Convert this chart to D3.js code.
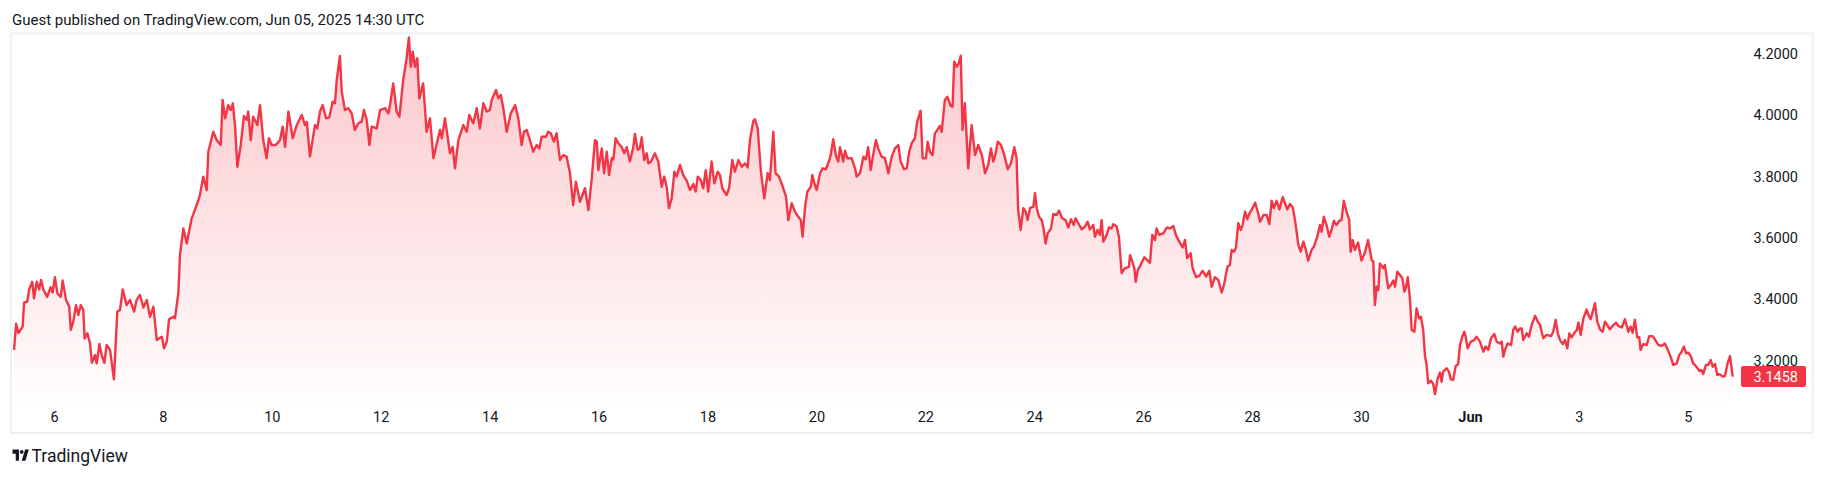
<!DOCTYPE html>
<html><head><meta charset="utf-8">
<script src="https://cdn.jsdelivr.net/npm/d3@7"></script>
<style>body{margin:0;background:#fff}svg{display:block}</style>
</head><body>
<svg id="c" width="1826" height="478"></svg>
<script>
// ---- DATA (time in hours since 2025-05-06 00:00, price) ----
const hours = [
-17.6,-16.7,-15.7,-13.8,-13.2,-11.8,-10.9,-9.6,-8.8,-7.6,
-6.6,-5.7,-4.7,-3.0,-1.5,-0.6,0.4,1.5,3.0,3.8,
5.3,6.7,7.4,8.5,9.7,10.7,11.8,12.9,13.5,14.7,
15.9,16.7,18.1,18.8,20.0,21.0,22.2,23.2,24.7,26.4,
27.9,29.1,30.3,32.0,33.5,35.3,36.4,37.9,39.4,40.9,
42.3,43.8,45.3,47.5,48.5,49.7,50.7,52.6,53.3,54.8,
55.5,57.0,58.5,60.7,63.6,64.3,65.8,67.3,68.0,70.2,
71.7,73.5,74.3,75.4,76.8,77.9,78.8,79.8,80.8,82.3,
83.7,84.9,85.6,86.7,87.8,89.6,90.8,92.2,93.7,94.7,
95.9,97.8,99.6,100.8,101.8,103.3,105.2,107.0,109.2,110.6,
111.4,112.8,115.0,116.0,117.2,118.4,119.9,121.3,122.8,123.8,
124.6,126.0,126.8,128.2,129.7,131.2,132.6,134.1,135.6,136.6,
137.8,139.0,140.0,142.2,143.7,145.9,147.3,148.1,149.5,151.0,
152.2,153.9,155.4,156.4,157.2,158.1,159.1,160.1,161.0,162.7,
164.2,165.7,167.2,170.1,170.9,172.3,174.5,175.7,176.7,178.2,
180.4,181.9,183.0,184.8,186.3,187.7,189.2,190.7,192.1,192.9,
194.8,195.8,196.9,198.0,199.5,201.3,203.2,204.6,206.1,207.1,
208.3,209.5,211.2,212.7,213.9,214.9,216.8,217.8,218.9,220.3,
221.5,223.0,224.4,225.9,227.4,228.8,230.0,231.8,234.0,235.5,
237.0,238.4,239.2,239.9,241.4,242.4,243.6,244.6,245.8,246.5,
247.5,248.7,250.2,251.3,252.4,253.8,255.3,256.0,257.2,258.2,
259.0,260.1,261.2,261.9,263.1,264.8,266.3,267.8,268.9,270.0,
271.0,272.2,273.4,274.4,275.9,277.3,278.8,280.3,281.7,282.8,
283.7,285.1,286.1,287.2,288.3,289.8,291.0,292.5,293.5,294.5,
296.4,297.5,298.9,300.1,301.6,303.1,304.5,305.7,306.7,308.2,
308.9,310.1,311.6,313.0,314.5,315.5,317.0,318.0,319.5,320.9,
322.6,323.6,325.1,326.5,328.0,329.1,329.9,331.0,332.0,333.5,
334.2,334.9,336.1,337.6,338.7,340.2,341.7,342.3,343.4,344.6,
345.6,346.4,347.8,348.6,349.6,351.5,353.0,353.7,355.2,356.7,
357.8,358.8,359.9,361.0,362.2,363.2,364.7,366.2,367.7,369.2,
370.6,372.1,373.1,374.6,375.8,376.9,378.0,379.4,380.4,381.9,
382.8,384.3,385.0,386.0,387.2,388.2,389.3,390.4,391.2,392.6,
393.7,395.2,396.0,396.7,397.8,398.7,399.6,400.4,401.4,402.9,
404.4,405.9,407.3,408.9,410.3,411.7,412.9,413.9,415.0,415.9,
417.3,418.8,420.3,421.7,423.2,424.2,424.9,426.0,427.2,428.2,
429.1,430.1,431.6,432.3,433.1,434.1,435.3,436.0,437.0,437.9,
439.4,440.4,441.9,442.9,444.3,445.8,447.0,448.2,449.4,450.2,
451.4,452.9,454.3,455.5,456.5,458.0,458.7,459.9,460.9,461.7,
462.4,463.9,464.9,466.1,466.8,468.3,469.3,470.5,471.9,473.7,
474.2,475.2,476.1,476.7,477.6,478.6,480.5,482.0,483.0,484.0,
485.2,485.9,487.0,488.9,490.4,491.8,493.3,494.4,495.9,497.4,
498.4,499.4,500.9,501.8,503.3,504.7,506.2,507.7,509.1,510.2,
511.6,513.1,514.6,515.6,517.1,518.2,519.0,520.0,520.9,521.9,
523.0,523.8,524.9,525.9,526.8,527.8,529.3,530.3,531.5,533.0,
534.4,535.6,536.6,537.6,538.8,540.0,541.5,542.5,543.5,544.7,
545.9,546.9,548.4,549.4,550.6,551.7,552.7,554.2,555.2,556.7,
557.9,558.6,559.6,560.8,562.0,563.0,564.0,565.2,566.4,567.4,
568.4,569.6,570.8,571.4,572.3,573.3,574.7,576.2,577.7,579.1,
580.7,581.4,582.1,582.9,583.6,584.3,585.8,586.5,588.0,589.2,
590.2,591.0,592.0,593.2,594.2,595.1,595.7,596.6,597.6,598.3,
599.5,600.5,601.5,602.4,603.4,604.2,604.9,605.6,606.8,607.8,
608.6,609.8,610.8,611.5,612.2,613.7,614.7,615.6,616.6,617.7,
618.8,619.6,620.6,621.5,622.1,623.0,624.4,625.9,626.9,628.4,
629.9,630.9,632.1,633.3,634.7,635.8,637.2,638.0,638.7,639.4,
640.6,642.1,643.1,643.9,645.0,646.0,646.8,647.5,649.0,650.0,
651.2,652.7,653.9,654.9,656.3,657.8,659.7,660.7,661.8,662.7,
663.7,664.9,665.9,666.9,667.8,668.8,669.9,671.1,671.8,672.8,
674.0,675.4,676.2,677.2,678.1,679.1,680.1,681.3,682.5,683.5,
684.5,685.7,687.2,688.4,689.4,690.9,692.3,693.8,694.8,695.7,
696.7,697.7,698.6,699.2,700.4,701.9,703.0,704.5,705.5,707.0,
708.5,709.9,710.9,712.4,713.6,715.1,716.2,717.3,718.3,719.2,
720.2,721.3,722.4,723.6,725.1,726.1,726.8,728.0,729.0,730.1,
731.0,732.0,733.0,733.9,735.4,736.4,737.5,738.6,739.8
];
const prices = [
3.233,3.318,3.288,3.309,3.387,3.39,3.431,3.455,3.401,3.455,
3.43,3.461,3.43,3.406,3.437,3.42,3.47,3.417,3.406,3.459,
3.396,3.374,3.298,3.325,3.379,3.347,3.379,3.363,3.27,3.287,
3.254,3.191,3.216,3.189,3.252,3.216,3.191,3.249,3.233,3.137,
3.358,3.363,3.43,3.379,3.396,3.358,3.396,3.412,3.371,3.396,
3.341,3.374,3.265,3.276,3.238,3.26,3.333,3.341,3.336,3.417,
3.542,3.629,3.58,3.662,3.72,3.738,3.798,3.754,3.879,3.944,
3.917,3.901,4.048,3.988,4.031,4.015,4.037,3.961,3.83,3.901,
3.996,3.983,4.01,3.917,3.993,3.966,4.031,3.917,3.858,3.923,
3.901,3.901,3.917,3.961,3.895,4.01,3.923,3.966,3.999,3.966,
3.977,3.863,3.966,3.955,4.01,4.031,3.988,3.991,4.042,4.037,
4.113,4.191,4.075,4.015,4.021,4.004,3.95,3.972,3.977,4.015,
3.983,3.901,3.961,3.955,4.015,4.021,4.004,4.031,4.102,4.01,
3.993,4.113,4.184,4.252,4.156,4.205,4.156,4.184,4.053,4.102,
3.944,3.988,3.858,3.95,3.923,3.988,3.874,3.895,3.825,3.917,
3.966,3.944,3.999,3.972,4.021,3.955,4.037,4.01,4.015,4.048,
4.08,4.053,4.064,4.021,3.944,4.004,4.031,3.988,3.901,3.944,
3.95,3.923,3.879,3.901,3.89,3.928,3.928,3.944,3.939,3.912,
3.939,3.852,3.868,3.863,3.809,3.705,3.781,3.716,3.76,3.689,
3.792,3.917,3.912,3.819,3.89,3.809,3.879,3.803,3.858,3.854,
3.923,3.907,3.894,3.874,3.894,3.847,3.894,3.937,3.885,3.89,
3.926,3.852,3.874,3.841,3.847,3.874,3.847,3.765,3.798,3.765,
3.695,3.727,3.814,3.798,3.836,3.803,3.785,3.754,3.774,3.749,
3.798,3.785,3.76,3.819,3.749,3.847,3.776,3.814,3.803,3.76,
3.738,3.76,3.852,3.814,3.852,3.83,3.841,3.828,3.917,3.98,
3.985,3.955,3.809,3.727,3.809,3.787,3.944,3.809,3.798,3.771,
3.732,3.656,3.711,3.684,3.667,3.656,3.602,3.7,3.749,3.765,
3.803,3.781,3.754,3.809,3.825,3.822,3.852,3.868,3.92,3.865,
3.847,3.894,3.847,3.882,3.858,3.858,3.825,3.798,3.809,3.863,
3.854,3.894,3.819,3.868,3.917,3.89,3.863,3.858,3.809,3.863,
3.89,3.901,3.847,3.822,3.825,3.879,3.907,3.923,3.977,4.013,
3.858,3.858,3.912,3.879,3.868,3.939,3.95,3.963,3.944,4.048,
4.058,4.028,4.026,4.173,4.156,4.167,4.192,3.95,4.037,3.825,
3.966,3.868,3.901,3.868,3.809,3.836,3.89,3.847,3.874,3.912,
3.901,3.868,3.822,3.841,3.894,3.858,3.689,3.624,3.695,3.684,
3.656,3.695,3.7,3.744,3.695,3.667,3.656,3.632,3.58,3.613,
3.629,3.676,3.673,3.687,3.662,3.656,3.632,3.659,3.64,3.662,
3.646,3.626,3.635,3.651,3.626,3.64,3.602,3.624,3.608,3.656,
3.586,3.608,3.632,3.629,3.643,3.635,3.602,3.483,3.499,3.504,
3.542,3.521,3.499,3.455,3.493,3.506,3.535,3.524,3.517,3.608,
3.591,3.629,3.608,3.613,3.632,3.629,3.637,3.608,3.586,3.567,
3.591,3.532,3.548,3.499,3.47,3.474,3.491,3.472,3.491,3.439,
3.47,3.461,3.42,3.445,3.504,3.51,3.559,3.553,3.567,3.646,
3.624,3.64,3.684,3.659,3.678,3.689,3.713,3.689,3.651,3.673,
3.673,3.643,3.719,3.695,3.719,3.691,3.731,3.711,3.691,3.709,
3.698,3.656,3.575,3.553,3.586,3.559,3.524,3.559,3.569,3.602,
3.64,3.618,3.667,3.64,3.602,3.624,3.654,3.64,3.654,3.656,
3.719,3.684,3.656,3.553,3.591,3.559,3.583,3.524,3.55,3.591,
3.526,3.521,3.379,3.439,3.428,3.515,3.499,3.51,3.434,3.445,
3.459,3.439,3.488,3.477,3.466,3.423,3.434,3.47,3.396,3.298,
3.292,3.368,3.336,3.341,3.298,3.211,3.184,3.124,3.133,3.122,
3.089,3.14,3.159,3.129,3.162,3.173,3.162,3.137,3.135,3.18,
3.187,3.249,3.276,3.292,3.276,3.238,3.26,3.265,3.276,3.26,
3.227,3.244,3.233,3.271,3.285,3.26,3.254,3.26,3.211,3.233,
3.254,3.249,3.298,3.309,3.292,3.303,3.303,3.265,3.287,3.276,
3.314,3.344,3.325,3.314,3.271,3.282,3.278,3.292,3.331,3.287,
3.265,3.252,3.265,3.238,3.287,3.274,3.287,3.298,3.322,3.282,
3.336,3.365,3.347,3.333,3.357,3.385,3.325,3.3,3.292,3.325,
3.314,3.3,3.314,3.322,3.311,3.306,3.333,3.292,3.309,3.289,
3.331,3.274,3.274,3.233,3.252,3.249,3.278,3.278,3.267,3.249,
3.246,3.254,3.238,3.211,3.184,3.189,3.216,3.227,3.244,3.222,
3.224,3.213,3.189,3.18,3.165,3.167,3.154,3.184,3.184,3.2,
3.178,3.187,3.151,3.154,3.146,3.148,3.189,3.213,3.1458
];
const priceTicks = [3.2, 3.4, 3.6, 3.8, 4.0, 4.2];
const timeTickDates = ["2025-05-06","2025-05-08","2025-05-10","2025-05-12","2025-05-14","2025-05-16","2025-05-18","2025-05-20","2025-05-22","2025-05-24","2025-05-26","2025-05-28","2025-05-30","2025-06-01","2025-06-03","2025-06-05"];
const timeTickLabels = ["6","8","10","12","14","16","18","20","22","24","26","28","30","Jun","3","5"];
const boldTickLabels = ["Jun"];
const lastPrice = 3.1458;
const titleText = "Guest published on TradingView.com, Jun 05, 2025 14:30 UTC";
const brandText = "TradingView";

// ---- CHART ----
const RED = "#F23645", TXT = "#131722";
const FONT = "Roboto, 'Noto Sans', sans-serif";
const svg = d3.select("#c");
const t0 = Date.UTC(2025, 4, 6);
const n = Math.min(hours.length, prices.length);
const data = d3.range(n).map(i => ({ t: new Date(t0 + hours[i] * 3600e3), v: prices[i] }));

const pane = { left: 12, top: 34, right: 1740, bottom: 402 };
const x = d3.scaleUtc().domain([new Date(t0), new Date(Date.UTC(2025, 5, 5))]).range([54, 1687.8]);
const y = d3.scaleLinear().domain([3.2, 4.2]).range([360, 53.3]);

// outer frame
svg.append("rect").attr("x", 11).attr("y", 33.5).attr("width", 1801.5).attr("height", 399.5)
  .attr("fill", "none").attr("stroke", "#EEF0F3").attr("stroke-width", 2);

const defs = svg.append("defs");
const grad = defs.append("linearGradient").attr("id", "g").attr("gradientUnits", "userSpaceOnUse")
  .attr("x1", 0).attr("x2", 0).attr("y1", pane.top).attr("y2", pane.bottom);
grad.append("stop").attr("offset", 0).attr("stop-color", RED).attr("stop-opacity", 0.28);
grad.append("stop").attr("offset", 1).attr("stop-color", RED).attr("stop-opacity", 0.01);
defs.append("clipPath").attr("id", "clip").append("rect")
  .attr("x", pane.left).attr("y", pane.top).attr("width", pane.right - pane.left).attr("height", pane.bottom - pane.top);

const g = svg.append("g").attr("clip-path", "url(#clip)");
g.append("path").datum(data).attr("fill", "url(#g)")
  .attr("d", d3.area().x(d => x(d.t)).y0(pane.bottom).y1(d => y(d.v)));
g.append("path").datum(data).attr("fill", "none").attr("stroke", RED).attr("stroke-width", 2.4)
  .attr("stroke-linejoin", "round").attr("d", d3.line().x(d => x(d.t)).y(d => y(d.v)));

// price axis
const ya = svg.append("g").attr("transform", "translate(1798,0)")
  .call(d3.axisRight(y).tickValues(priceTicks).tickFormat(d3.format(".4f")).tickSize(0));
ya.select(".domain").remove();
ya.selectAll("text").attr("x", 0).attr("text-anchor", "end").attr("dy", "0.35em")
  .attr("fill", TXT).style("font-family", FONT).style("font-size", "14.5px");

// time axis
const tickDates = timeTickDates.map(s => new Date(s + "T00:00:00Z"));
const xa = svg.append("g").attr("transform", "translate(0,417)")
  .call(d3.axisBottom(x).tickValues(tickDates).tickFormat((d, i) => timeTickLabels[i]).tickSize(0));
xa.select(".domain").remove();
xa.selectAll("text").attr("y", 0).attr("dy", "0.35em").attr("fill", TXT)
  .style("font-family", FONT).style("font-size", "14.5px")
  .style("font-weight", (d, i) => boldTickLabels.includes(timeTickLabels[i]) ? "bold" : "normal");

// last price label
const ly = y(lastPrice);
svg.append("rect").attr("x", 1741).attr("y", ly - 10.5).attr("width", 65).attr("height", 21)
  .attr("rx", 2).attr("fill", RED);
svg.append("text").attr("x", 1798).attr("y", ly).attr("dy", "0.35em").attr("text-anchor", "end")
  .attr("fill", "#fff").style("font-family", FONT).style("font-size", "14.5px").text(lastPrice.toFixed(4));

// title
svg.append("text").attr("x", 12).attr("y", 19.5).attr("dy", "0.35em").attr("fill", TXT)
  .style("font-family", FONT).style("font-size", "15px").text(titleText);

// watermark
const logo = svg.append("g").attr("transform", "translate(12.5,447) scale(0.46,0.62)").attr("fill", TXT);
logo.append("path").attr("d", "M14 22H7V11H0V4h14v18zM28 22h-8l7.5-18h8L28 22z");
logo.append("ellipse").attr("cx", 20).attr("cy", 8).attr("rx", 4).attr("ry", 3);
svg.append("text").attr("x", 31.5).attr("y", 455.5).attr("dy", "0.35em").attr("fill", TXT)
  .style("font-family", FONT).style("font-size", "17.5px").text(brandText);
</script>
</body></html>
